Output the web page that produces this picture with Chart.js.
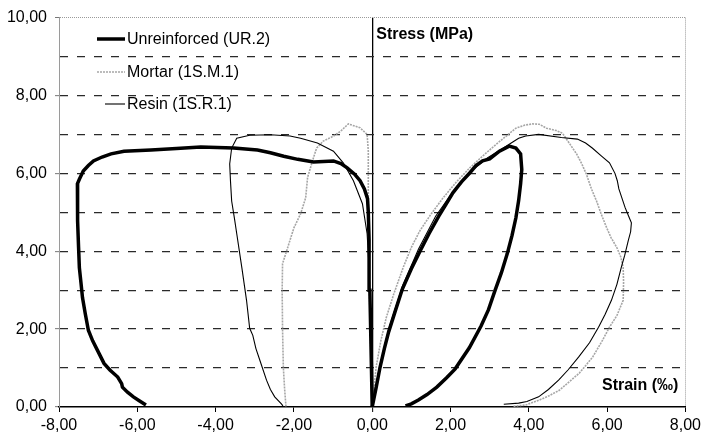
<!DOCTYPE html>
<html>
<head>
<meta charset="utf-8">
<script src="https://cdn.jsdelivr.net/npm/chart.js@4/dist/chart.umd.min.js"></script>
<style>
  html, body { margin: 0; padding: 0; background: #fff; }
  #c { display: block; }
</style>
</head>
<body>
<canvas id="c" width="705" height="437"></canvas>
<script>
// ---- Data (strain ‰, stress MPa) ----
const seriesNames = ['Unreinforced (UR.2)', 'Mortar (1S.M.1)', 'Resin (1S.R.1)'];

const urLeftX = [0,-0.03,-0.06,-0.08,-0.1,-0.12,-0.2,-0.31,-0.45,-0.64,-0.8,-0.99,-1.5,-1.9,-2.26,-2.6,-2.93,-3.54,-4.38,-5.0,-5.65,-6.34,-6.67,-6.9,-7.12,-7.25,-7.38,-7.48,-7.53,-7.53,-7.52,-7.5,-7.48,-7.44,-7.4,-7.33,-7.25,-7.14,-7.02,-6.85,-6.7,-6.5,-6.4,-6.38,-6.25,-6.1,-5.95,-5.78];
const urLeftY = [0,1.5,3.0,4.3,5.0,5.35,5.6,5.81,5.98,6.14,6.25,6.32,6.29,6.36,6.44,6.53,6.6,6.65,6.68,6.64,6.6,6.57,6.5,6.42,6.32,6.2,6.06,5.85,5.73,5.3,4.78,4.1,3.58,3.2,2.81,2.4,1.97,1.7,1.46,1.12,0.95,0.77,0.6,0.51,0.38,0.26,0.16,0.05];

const urRightX = [0,0.1,0.2,0.31,0.42,0.6,0.77,1.0,1.23,1.45,1.7,1.88,2.06,2.28,2.49,2.65,2.82,3.0,3.25,3.5,3.67,3.79,3.82,3.79,3.74,3.67,3.57,3.45,3.3,3.14,2.97,2.78,2.48,2.12,1.9,1.65,1.4,1.18,1.0,0.85];
const urRightY = [0,0.5,1.02,1.5,1.93,2.5,3.03,3.55,4.02,4.45,4.9,5.2,5.5,5.78,6.01,6.2,6.32,6.37,6.57,6.7,6.65,6.5,6.1,5.73,5.3,4.86,4.4,3.94,3.45,3.0,2.5,2.08,1.52,0.98,0.75,0.51,0.32,0.18,0.08,0.03];

const mortarLeftX = [0,-0.05,-0.08,-0.1,-0.1,-0.1,-0.13,-0.31,-0.61,-0.81,-1.0,-1.25,-1.42,-1.5,-1.65,-1.7,-1.83,-2.0,-2.16,-2.29,-2.3,-2.29,-2.27,-2.24,-2.21,-2.2];
const mortarLeftY = [0,2.0,3.43,4.5,5.3,6.57,7.0,7.17,7.27,7.08,6.95,6.83,6.65,6.4,5.9,5.37,4.96,4.6,4.09,3.68,3.0,2.0,1.02,0.5,0.1,0];

const mortarRightX = [0,0.1,0.22,0.36,0.55,0.79,1.0,1.22,1.5,1.81,2.15,2.49,2.85,3.17,3.45,3.67,3.9,4.1,4.27,4.45,4.7,4.86,5.05,5.22,5.35,5.47,5.6,5.73,5.85,5.99,6.1,6.25,6.35,6.41,6.42,6.41,6.25,6.06,5.88,5.63,5.29,5.0,4.78,4.5,4.27,3.92,3.61];
const mortarRightY = [0,1.02,1.7,2.3,2.9,3.58,4.1,4.53,4.95,5.37,5.78,6.14,6.47,6.75,6.98,7.16,7.24,7.27,7.26,7.16,7.1,7.03,6.75,6.5,6.25,5.98,5.6,5.29,4.95,4.6,4.35,4.09,3.85,3.58,3.2,2.74,2.35,2.05,1.71,1.28,0.87,0.62,0.43,0.28,0.18,0.05,0.02];

const resinLeftX = [0,-0.03,-0.05,-0.08,-0.13,-0.25,-0.48,-0.74,-0.99,-1.4,-1.83,-2.1,-2.6,-3.13,-3.46,-3.59,-3.64,-3.62,-3.59,-3.52,-3.46,-3.33,-3.21,-3.13,-3.05,-2.97,-2.87,-2.7,-2.6,-2.49,-2.32,-2.28];
const resinLeftY = [0,1.5,2.6,3.58,4.45,5.22,5.81,6.27,6.57,6.78,6.9,6.96,6.99,6.98,6.9,6.65,6.24,5.8,5.29,4.85,4.45,3.58,2.74,2.02,1.84,1.5,1.2,0.69,0.45,0.26,0.08,0.03];

const resinRightX = [0,0.18,0.42,0.77,1.18,1.62,2.08,2.52,2.95,3.3,3.55,3.74,3.92,4.25,4.83,5.24,5.45,5.62,5.85,6.06,6.2,6.26,6.3,6.4,6.46,6.55,6.62,6.6,6.54,6.45,6.36,6.25,6.11,5.95,5.78,5.55,5.27,5.0,4.76,4.5,4.25,3.95,3.74,3.36];
const resinRightY = [0,1.0,2.0,3.1,4.05,4.9,5.55,6.05,6.4,6.62,6.78,6.9,6.96,7.0,6.92,6.88,6.78,6.65,6.45,6.27,6.0,5.81,5.6,5.3,5.12,4.9,4.73,4.5,4.27,3.9,3.58,3.15,2.74,2.38,2.05,1.65,1.28,0.95,0.69,0.45,0.26,0.14,0.1,0.07];

const xTickValues = [-8,-6,-4,-2,0,2,4,6,8];
const xTickLabels = ['-8,00','-6,00','-4,00','-2,00','0,00','2,00','4,00','6,00','8,00'];
const yTickValues = [0,2,4,6,8,10];
const yTickLabels = ['0,00','2,00','4,00','6,00','8,00','10,00'];

const yTitle = 'Stress (MPa)';
const xTitle = 'Strain (‰)';

// ---- Build ----
function pts(xs, ys) { return xs.map((x, i) => ({x: x, y: ys[i]})); }

const styles = [
  {color: '#000000', width: 3.5, dash: []},
  {color: '#a6a6a6', width: 1.6, dash: [2, 1]},
  {color: '#000000', width: 1.1, dash: []}
];

function ds(series, xs, ys) {
  const s = styles[series];
  return {
    label: seriesNames[series],
    series: series,
    data: pts(xs, ys),
    showLine: true,
    borderColor: s.color,
    borderWidth: s.width,
    borderDash: s.dash,
    pointRadius: 0,
    pointHoverRadius: 0,
    tension: 0,
    fill: false
  };
}

const datasets = [
  ds(0, urLeftX, urLeftY),
  ds(0, urRightX, urRightY),
  ds(2, resinLeftX, resinLeftY),
  ds(2, resinRightX, resinRightY),
  ds(1, mortarLeftX, mortarLeftY),
  ds(1, mortarRightX, mortarRightY)
];

const FONT = '"Liberation Sans", Arial, sans-serif';
Chart.defaults.font.family = FONT;
Chart.defaults.font.size = 16;
Chart.defaults.color = '#000';

const overlay = {
  id: 'overlay',
  afterDraw(chart) {
    const ctx = chart.ctx;
    const xs = chart.scales.x, ys = chart.scales.y;
    ctx.save();
    // axis titles
    ctx.fillStyle = '#000';
    ctx.font = 'bold 16px ' + FONT;
    ctx.textBaseline = 'middle';
    ctx.textAlign = 'left';
    ctx.fillText(yTitle, xs.getPixelForValue(0) + 4, 35);
    ctx.textAlign = 'right';
    ctx.fillText(xTitle, chart.chartArea.right - 7, 386);
    // legend
    const legendY = [39, 72, 104];
    ctx.font = '16px ' + FONT;
    ctx.textAlign = 'left';
    seriesNames.forEach((name, i) => {
      const s = styles[i];
      ctx.beginPath();
      ctx.strokeStyle = s.color;
      ctx.lineWidth = s.width;
      ctx.setLineDash(s.dash);
      ctx.moveTo(i === 2 ? 105 : 97, legendY[i]);
      ctx.lineTo(125, legendY[i]);
      ctx.stroke();
      ctx.setLineDash([]);
      ctx.fillStyle = '#000';
      ctx.fillText(name, 127, legendY[i] + 1);
    });
    ctx.restore();
  }
};

new Chart(document.getElementById('c'), {
  type: 'scatter',
  data: { datasets: datasets },
  plugins: [overlay],
  options: {
    responsive: false,
    devicePixelRatio: 1,
    animation: false,
    layout: { padding: { left: 0, right: 17, top: 16, bottom: 0 } },
    plugins: { legend: { display: false }, tooltip: { enabled: false } },
    scales: {
      x: {
        type: 'linear',
        min: -8, max: 8,
        afterFit(scale) { scale.height = 30; },
        afterBuildTicks(scale) { scale.ticks = xTickValues.map(v => ({value: v})); },
        ticks: {
          padding: 4,
          maxRotation: 0,
          autoSkip: false,
          callback: (v) => { const i = xTickValues.indexOf(v); return i >= 0 ? xTickLabels[i] : ''; }
        },
        grid: {
          drawOnChartArea: true,
          color: (c) => c.tick && c.tick.value === 0 ? '#000' : (c.tick && c.tick.value === 8 ? '#9a9a9a' : 'rgba(0,0,0,0)'),
          lineWidth: (c) => c.tick && c.tick.value === 0 ? 1.3 : 1,
          tickColor: '#000',
          tickLength: 5,
          tickWidth: 1
        },
        border: {
          display: true, color: '#000', width: 1.5,
          dash: (c) => c.tick && c.tick.value === 8 ? [1, 1] : []
        }
      },
      y: {
        type: 'linear',
        min: 0, max: 10,
        afterFit(scale) { scale.width = 59; },
        afterBuildTicks(scale) {
          const t = [];
          for (let v = 0; v <= 10; v++) t.push({value: v});
          scale.ticks = t;
        },
        ticks: {
          padding: 8,
          autoSkip: false,
          callback: (v) => { const i = yTickValues.indexOf(v); return i >= 0 ? yTickLabels[i] : ''; }
        },
        grid: {
          color: (c) => {
            if (!c.tick) return '#222';
            if (c.tick.value === 0) return 'rgba(0,0,0,0)';
            if (c.tick.value === 10) return '#9a9a9a';
            return '#2a2a2a';
          },
          lineWidth: (c) => c.tick && c.tick.value === 10 ? 1 : 1.3,
          tickColor: (c) => c.tick && c.tick.value % 2 === 0 ? '#777' : 'rgba(0,0,0,0)',
          tickLength: 4,
          tickWidth: 1
        },
        border: {
          display: true, color: '#9a9a9a', width: 1,
          dash: (c) => c.tick && c.tick.value === 10 ? [1, 1] : [8, 9]
        }
      }
    }
  }
});
</script>
</body>
</html>
